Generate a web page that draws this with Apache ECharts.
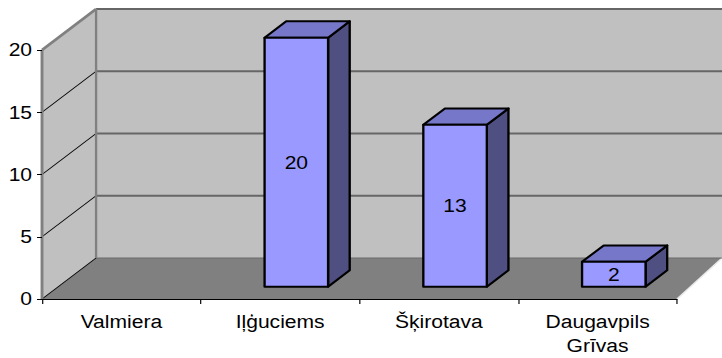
<!DOCTYPE html>
<html>
<head>
<meta charset="utf-8">
<script src="https://cdn.jsdelivr.net/npm/echarts@6/dist/echarts.min.js"></script>
<style>
  html, body { margin: 0; padding: 0; background: #ffffff; overflow: hidden; }
  /* the chart is laid out narrower and widened horizontally, which gives the wide lettering */
  #chart { width: 617px; height: 358px; transform: scaleX(1.1702); transform-origin: 0 0; }
</style>
</head>
<body>
<div id="chart"></div>
<script>
// Chart data
const categories = ['Valmiera', 'Iļģuciems', 'Šķirotava', 'Daugavpils\nGrīvas'];
const counts = [null, 20, 13, 2];
const yTicks = [0, 5, 10, 15, 20];

// Oblique projection of the depth axis (pixels from front plane to back wall, before widening)
const DEPTH_X = 46.2;
const DEPTH_X_RIGHT = 38.5;
const DEPTH_Y = -41;
// Bars sit between these fractions of the depth
const BAR_FRONT = 0.3;
const BAR_BACK = 0.7;
const BAR_WIDTH = 0.4;

const FONT = '"Liberation Sans", Arial, sans-serif';

function renderWalls(params, api) {
  const cs = params.coordSys;
  const x0 = cs.x, x1 = cs.x + cs.width;
  const yb = api.coord([0, 0])[1];
  const yt = api.coord([0, yTicks[yTicks.length - 1]])[1];
  const bx0 = x0 + DEPTH_X, bx1 = x1 + DEPTH_X_RIGHT;
  const children = [];
  // left side wall
  children.push({ type: 'polygon', shape: { points: [[x0, yt], [bx0, yt + DEPTH_Y], [bx0, yb + DEPTH_Y], [x0, yb]] },
    style: { fill: '#c0c0c0' } });
  // back wall
  children.push({ type: 'rect', shape: { x: bx0, y: yt + DEPTH_Y, width: bx1 - bx0, height: yb - yt },
    style: { fill: '#c0c0c0' } });
  // floor
  children.push({ type: 'polygon', shape: { points: [[x0, yb], [bx0, yb + DEPTH_Y], [bx1, yb + DEPTH_Y], [x1, yb]] },
    style: { fill: '#808080' } });
  // floor right edge
  children.push({ type: 'line', shape: { x1: x1, y1: yb, x2: bx1, y2: yb + DEPTH_Y },
    style: { stroke: '#e8e8e8', lineWidth: 1.2 } });
  // gridlines on back and side walls
  yTicks.forEach(function (v) {
    const y = api.coord([0, v])[1];
    const isTop = v === yTicks[yTicks.length - 1];
    children.push({ type: 'line', shape: { x1: bx0, y1: y + DEPTH_Y, x2: bx1, y2: y + DEPTH_Y },
      style: { stroke: v === 0 ? '#6a6a6a' : '#666666', lineWidth: v === 0 ? 1 : 2 } });
    children.push({ type: 'line', shape: { x1: x0, y1: y, x2: bx0, y2: y + DEPTH_Y },
      style: { stroke: isTop ? '#808080' : '#000000', lineWidth: isTop ? 2.5 : 1 } });
  });
  // wall edges
  children.push({ type: 'line', shape: { x1: bx0, y1: yt + DEPTH_Y, x2: bx0, y2: yb + DEPTH_Y },
    style: { stroke: '#808080', lineWidth: 2 } });
  children.push({ type: 'line', shape: { x1: x0, y1: yt, x2: x0, y2: yb },
    style: { stroke: '#808080', lineWidth: 2.5 } });
  return { type: 'group', children: children };
}

function renderBar(params, api) {
  const v = api.value(1);
  if (v == null || isNaN(v)) return null;
  const top = api.coord([api.value(0), v]);
  const base = api.coord([api.value(0), 0]);
  const band = api.size([1, 0])[0];
  const w = band * BAR_WIDTH;
  const fx = DEPTH_X * BAR_FRONT, fy = DEPTH_Y * BAR_FRONT;
  const bx = DEPTH_X * BAR_BACK, by = DEPTH_Y * BAR_BACK;
  const l = top[0] - w / 2 + fx, r = top[0] + w / 2 + fx;
  const t = top[1] + fy, b = base[1] + fy;
  const dx = bx - fx, dy = by - fy;
  const edge = { stroke: '#000000', lineWidth: 2, lineJoin: 'round' };
  return {
    type: 'group',
    children: [
      { type: 'polygon', shape: { points: [[r, t], [r + dx, t + dy], [r + dx, b + dy], [r, b]] },
        style: Object.assign({ fill: '#4f4f82' }, edge) },
      { type: 'polygon', shape: { points: [[l, t], [l + dx, t + dy], [r + dx, t + dy], [r, t]] },
        style: Object.assign({ fill: '#7777c9' }, edge) },
      { type: 'rect', shape: { x: l, y: t, width: r - l, height: b - t },
        style: Object.assign({ fill: '#9999ff' }, edge) },
      { type: 'text', x: (l + r) / 2, y: (t + b) / 2,
        style: { text: String(v), fill: '#000000', font: '18px ' + FONT, align: 'center', verticalAlign: 'middle' } }
    ]
  };
}

const chart = echarts.init(document.getElementById('chart'), null, { renderer: 'svg' });
chart.setOption({
  animation: false,
  backgroundColor: '#ffffff',
  grid: { left: 35.9, right: 38.5, top: 50, bottom: 59 },
  xAxis: {
    type: 'category',
    data: categories,
    boundaryGap: true,
    z: 10,
    axisLine: { show: true, lineStyle: { color: '#000000', width: 1 } },
    axisTick: { show: true, length: 5, lineStyle: { color: '#000000' } },
    axisLabel: { color: '#000000', fontFamily: FONT, fontSize: 18, margin: 11, lineHeight: 24, interval: 0 },
    splitLine: { show: false }
  },
  yAxis: {
    type: 'value',
    min: 0,
    max: 20,
    interval: 5,
    z: 10,
    axisLine: { show: false },
    axisTick: { show: true, length: 4.3, lineStyle: { color: '#000000' } },
    axisLabel: { color: '#000000', fontFamily: FONT, fontSize: 18, margin: 8.5 },
    splitLine: { show: false }
  },
  series: [
    {
      type: 'custom',
      name: 'walls',
      z: 1,
      silent: true,
      renderItem: renderWalls,
      data: [[0, 0]],
      clip: false
    },
    {
      type: 'custom',
      name: 'bars',
      z: 3,
      renderItem: renderBar,
      encode: { x: 0, y: 1 },
      data: categories.map(function (c, i) { return [i, counts[i]]; }),
      clip: false
    }
  ]
});
</script>
</body>
</html>
